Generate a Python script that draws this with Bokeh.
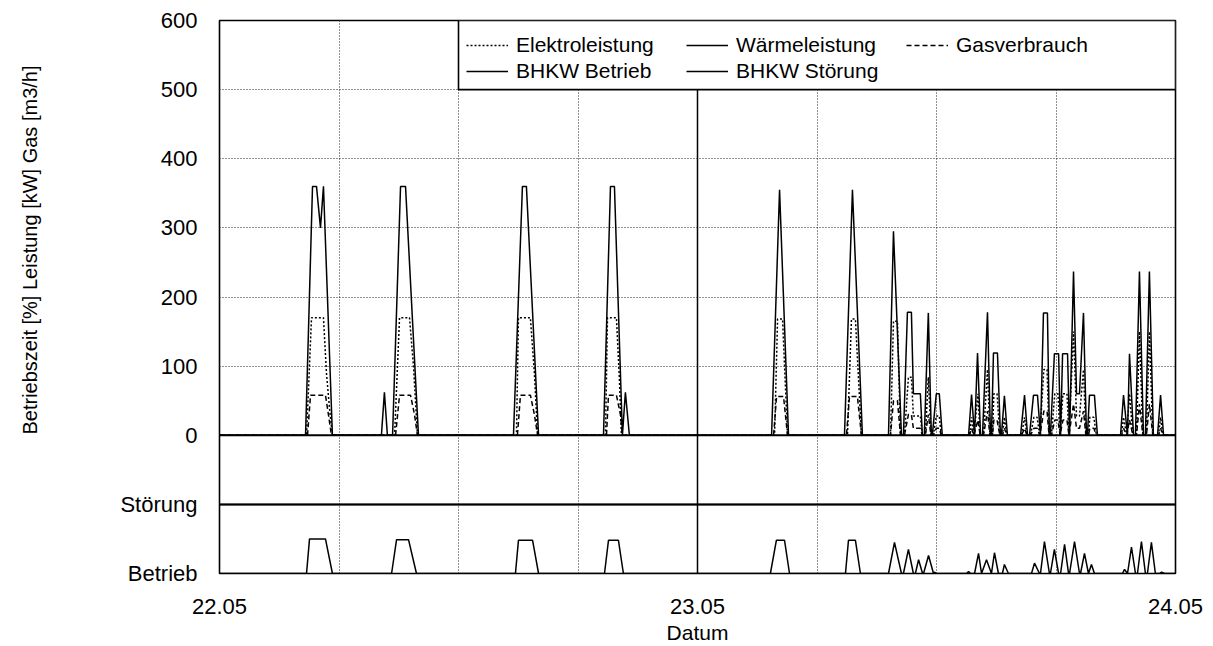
from bokeh.plotting import figure
from bokeh.models import (Range1d, FixedTicker, Span, BoxAnnotation, Legend, LegendItem, Title)
from bokeh.embed import file_html
from bokeh.resources import INLINE

# ---------------- data (hours after 22.05 00:00) ----------------
t_waerme = [0, 4.32, 4.67, 4.87, 5.07, 5.22, 5.67,
            8.13, 8.28, 8.43, 8.69, 9.09, 9.34, 9.99,
            14.76, 15.21, 15.41, 16.02,
            19.28, 19.63, 19.83, 20.23, 20.38, 20.58,
            27.72, 28.12, 28.57,
            31.38, 31.78, 32.28,
            33.59, 33.84, 34.24,
            34.34, 34.54, 34.74, 34.84, 35.19, 35.29,
            35.39, 35.59, 35.74,
            35.79, 35.99, 36.14, 36.29,
            37.61, 37.76, 37.91, 38.06, 38.21, 38.31, 38.56, 38.71,
            38.76, 38.86, 39.06, 39.21, 39.26, 39.41, 39.56,
            40.22, 40.42, 40.57, 40.67, 40.87, 41.07, 41.22,
            41.37, 41.57, 41.67, 41.72, 41.92, 42.13, 42.23,
            42.33, 42.58, 42.68, 42.88, 43.03, 43.18, 43.38, 43.53,
            43.58, 43.68, 43.93, 44.08,
            45.24, 45.39, 45.59, 45.69, 45.89, 45.99, 46.19, 46.39,
            46.49, 46.69, 46.89, 47.10, 47.25, 47.40, 48]
waerme = [0, 0, 360, 360, 300, 360, 0,
          0, 62, 0, 0, 360, 360, 0,
          0, 360, 360, 0,
          0, 360, 360, 0, 62, 0,
          0, 355, 0,
          0, 355, 0,
          0, 295, 0,
          0, 178, 178, 60, 60, 0,
          0, 177, 0,
          0, 60, 60, 0,
          0, 59, 0, 119, 0, 0, 178, 0,
          0, 119, 119, 0, 0, 57, 0,
          0, 58, 0, 0, 58, 58, 0,
          177, 177, 0, 0, 118, 118, 0,
          118, 118, 0, 237, 60, 60, 177, 0,
          0, 58, 58, 0,
          0, 58, 0, 118, 0, 0, 237, 0,
          0, 237, 0, 0, 58, 0, 0]

t_elektro = [0, 4.37, 4.62, 5.22, 5.37, 5.52, 5.67,
             8.79, 9.04, 9.54, 9.74, 9.94,
             14.91, 15.01, 15.61, 15.81, 15.97,
             19.38, 19.48, 19.93, 20.08, 20.18,
             27.87, 28.02, 28.27, 28.52,
             31.53, 31.73, 31.93, 32.23,
             33.69, 33.84, 34.04, 34.19,
             34.39, 34.59, 34.74, 34.84, 35.19, 35.29,
             35.44, 35.59, 35.72,
             35.84, 35.99, 36.14, 36.24,
             37.66, 37.76, 37.88, 38.08, 38.19, 38.36, 38.56, 38.68,
             38.81, 38.88, 39.04, 39.18, 39.31, 39.41, 39.53,
             40.27, 40.42, 40.54, 40.72, 40.89, 41.05, 41.19,
             41.39, 41.55, 41.65, 41.77, 41.94, 42.10, 42.20,
             42.35, 42.55, 42.65, 42.88, 43.03, 43.18, 43.38, 43.50,
             43.63, 43.70, 43.90, 44.03,
             45.29, 45.39, 45.55, 45.69, 45.86, 46.04, 46.19, 46.36,
             46.54, 46.69, 46.86, 47.15, 47.25, 47.37, 48]
elektro = [0, 0, 170, 170, 90, 40, 0,
           0, 170, 170, 100, 0,
           0, 170, 170, 90, 0,
           0, 170, 170, 80, 0,
           0, 168, 168, 0,
           0, 168, 168, 0,
           0, 165, 165, 0,
           0, 84, 84, 28, 28, 0,
           0, 84, 0,
           0, 28, 28, 0,
           0, 26, 0, 60, 0, 0, 95, 0,
           0, 60, 60, 0, 0, 26, 0,
           0, 26, 0, 0, 26, 26, 0,
           95, 95, 0, 0, 60, 60, 0,
           60, 60, 0, 150, 28, 28, 95, 0,
           0, 26, 26, 0,
           0, 26, 0, 60, 0, 0, 150, 0,
           0, 150, 0, 0, 26, 0, 0]

t_gas = [0, 4.42, 4.57, 5.32, 5.47, 5.62,
         8.84, 9.04, 9.59, 9.79, 9.94,
         14.96, 15.11, 15.61, 15.81, 15.97,
         19.43, 19.53, 19.93, 20.13, 20.23,
         27.82, 27.97, 28.32, 28.52,
         31.48, 31.63, 32.03, 32.23,
         33.69, 33.84, 34.04, 34.19,
         34.39, 34.59, 34.74, 34.84, 35.19, 35.29,
         35.44, 35.59, 35.72,
         35.84, 35.99, 36.14, 36.24,
         37.66, 37.76, 37.88, 38.08, 38.19, 38.36, 38.56, 38.68,
         38.81, 38.88, 39.04, 39.18, 39.31, 39.41, 39.53,
         40.27, 40.42, 40.54, 40.72, 40.89, 41.05, 41.19,
         41.39, 41.55, 41.65, 41.77, 41.94, 42.10, 42.20,
         42.35, 42.55, 42.65, 42.88, 43.03, 43.18, 43.38, 43.50,
         43.63, 43.70, 43.90, 44.03,
         45.29, 45.39, 45.55, 45.69, 45.86, 46.04, 46.19, 46.36,
         46.54, 46.69, 46.86, 47.15, 47.25, 47.37, 48]
gas = [0, 0, 58, 58, 30, 0,
       0, 58, 58, 30, 0,
       0, 58, 58, 30, 0,
       0, 58, 58, 30, 0,
       0, 56, 56, 0,
       0, 56, 56, 0,
       0, 50, 50, 0,
       0, 30, 30, 10, 10, 0,
       0, 30, 0,
       0, 10, 10, 0,
       0, 10, 0, 22, 0, 0, 35, 0,
       0, 22, 22, 0, 0, 10, 0,
       0, 10, 0, 0, 10, 10, 0,
       35, 35, 0, 0, 22, 22, 0,
       22, 22, 0, 45, 10, 10, 35, 0,
       0, 10, 10, 0,
       0, 10, 0, 22, 0, 0, 45, 0,
       0, 45, 0, 0, 10, 0, 0]

# BHKW Betrieb [%] (own panel)
t_betrieb = [0, 4.37, 4.52, 5.32, 5.67,
             8.64, 8.89, 9.49, 9.89,
             14.86, 15.01, 15.72, 16.02,
             19.33, 19.53, 20.03, 20.28,
             27.66, 27.96, 28.37, 28.62,
             31.43, 31.58, 31.93, 32.18,
             33.59, 33.89, 34.24, 34.34, 34.59, 34.84, 34.94, 35.10, 35.30,
             35.35, 35.60, 35.85, 35.90, 36.00,
             37.51, 37.61, 37.71, 37.91, 38.11, 38.26, 38.51, 38.76,
             38.91, 39.11, 39.31, 39.41, 39.61,
             40.77, 40.92, 41.17, 41.22, 41.42, 41.67, 41.72, 41.92, 42.13,
             42.23, 42.43, 42.63, 42.68, 42.93, 43.18, 43.23, 43.43, 43.63,
             43.78, 43.93,
             45.34, 45.44, 45.59, 45.79, 45.99, 46.09, 46.29, 46.49,
             46.59, 46.79, 46.99, 47.20, 47.30, 47.45, 48]
betrieb = [0, 0, 50, 50, 0,
           0, 49, 49, 0,
           0, 48, 48, 0,
           0, 48, 48, 0,
           0, 48, 48, 0,
           0, 48, 48, 0,
           0, 45, 0, 0, 35, 0, 0, 20, 0,
           0, 26, 0, 2, 0,
           0, 3, 0, 0, 29, 0, 20, 0,
           30, 0, 0, 13, 0,
           0, 15, 0, 0, 46, 0, 0, 35, 0,
           0, 42, 0, 0, 46, 0, 0, 29, 0,
           13, 0,
           0, 6, 0, 38, 0, 0, 46, 0,
           0, 45, 0, 0, 2, 0, 0]

# BHKW Störung (no fault in this period)
t_stoerung = [0, 48]
stoerung = [0, 0]

x_ticks = [0, 24, 48]
x_tick_labels = ["22.05", "23.05", "24.05"]
y_ticks = [-200, -100, 0, 100, 200, 300, 400, 500, 600]
y_tick_labels = {-200: "Betrieb", -100: "Störung"}

FONT = "Liberation Sans"

p = figure(frame_width=956, frame_height=553,
           min_border_left=219, min_border_right=30, min_border_top=20, min_border_bottom=65,
           x_range=Range1d(0, 48), y_range=Range1d(-200, 600),
           output_backend="svg", toolbar_location=None, background_fill_color="white")

# panels share the pixel scale: Betrieb panel 0 at -200, Störung 0 at -100
p.extra_y_ranges = {"betrieb": Range1d(0, 800), "stoerung": Range1d(-100, 700)}

p.outline_line_color = "black"
p.outline_line_width = 1.6

for ax in (p.xaxis[0], p.yaxis[0]):
    ax.axis_line_color = None
    ax.major_tick_line_color = None
    ax.minor_tick_line_color = None
    ax.major_tick_out = 0
    ax.major_tick_in = 0
    ax.minor_tick_out = 0
    ax.minor_tick_in = 0
    ax.major_label_text_font = FONT
    ax.major_label_text_font_size = "22px"
    ax.major_label_text_color = "black"

p.xaxis.ticker = FixedTicker(ticks=x_ticks)
p.xaxis.major_label_overrides = {t: l for t, l in zip(x_ticks, x_tick_labels)}
p.xaxis.major_label_standoff = 25
p.xaxis.axis_label = "Datum"
p.xaxis.axis_label_text_font = FONT
p.xaxis.axis_label_text_font_size = "21px"
p.xaxis.axis_label_text_font_style = "normal"
p.xaxis.axis_label_text_color = "black"
p.xaxis.axis_label_standoff = 4

p.yaxis.ticker = FixedTicker(ticks=y_ticks)
p.yaxis.major_label_overrides = y_tick_labels
p.yaxis.major_label_standoff = 22

p.xgrid.ticker = FixedTicker(ticks=[6, 12, 18, 30, 36, 42])
p.ygrid.ticker = FixedTicker(ticks=[100, 200, 300, 400, 500])
for g in (p.xgrid[0], p.ygrid[0]):
    g.grid_line_color = "#222222"
    g.grid_line_dash = "1 2"
    g.grid_line_width = 1

p.add_layout(Span(location=24, dimension="height", line_color="black", line_width=1.5, level="underlay"))
p.add_layout(Span(location=0, dimension="width", line_color="black", line_width=2, level="underlay"))
p.add_layout(Span(location=-100, dimension="width", line_color="black", line_width=2, level="underlay"))

r_el = p.line(t_elektro, elektro, line_color="black", line_width=1.5, line_dash="2 2")
r_wa = p.line(t_waerme, waerme, line_color="black", line_width=1.5)
r_gas = p.line(t_gas, gas, line_color="black", line_width=1.5, line_dash="5 3")
r_be = p.line(t_betrieb, betrieb, line_color="black", line_width=1.5, y_range_name="betrieb")
r_st = p.line(t_stoerung, stoerung, line_color="black", line_width=1.5, y_range_name="stoerung")

p.add_layout(BoxAnnotation(left=12, right=48, bottom=500, top=600, fill_color="white", fill_alpha=1,
                           line_color="black", line_width=1.6, line_alpha=1))

legend = Legend(items=[
    LegendItem(label="Elektroleistung", renderers=[r_el]),
    LegendItem(label="Wärmeleistung", renderers=[r_wa]),
    LegendItem(label="Gasverbrauch", renderers=[r_gas]),
    LegendItem(label="BHKW Betrieb", renderers=[r_be]),
    LegendItem(label="BHKW Störung", renderers=[r_st]),
], location=(247, 490), orientation="horizontal", ncols=3)
legend.label_text_font = FONT
legend.label_text_font_size = "21px"
legend.label_text_color = "black"
legend.glyph_width = 42
legend.glyph_height = 20
legend.label_height = 20
legend.label_width = 168
legend.label_standoff = 8
legend.spacing = 2
legend.padding = 0
legend.margin = 0
legend.border_line_color = None
legend.background_fill_alpha = 0
p.add_layout(legend)

# spacer between tick labels and the y title, then the y title itself (outermost)
p.add_layout(Title(text=" ", text_font_size="1px", standoff=58), "left")
p.add_layout(Title(text="Betriebszeit [%] Leistung [kW] Gas [m3/h]", align="right", offset=45,
                   vertical_align="middle", standoff=30, text_font=FONT, text_font_size="20px",
                   text_font_style="normal", text_color="black"), "left")

open("out.html", "w").write(file_html(p, INLINE))
